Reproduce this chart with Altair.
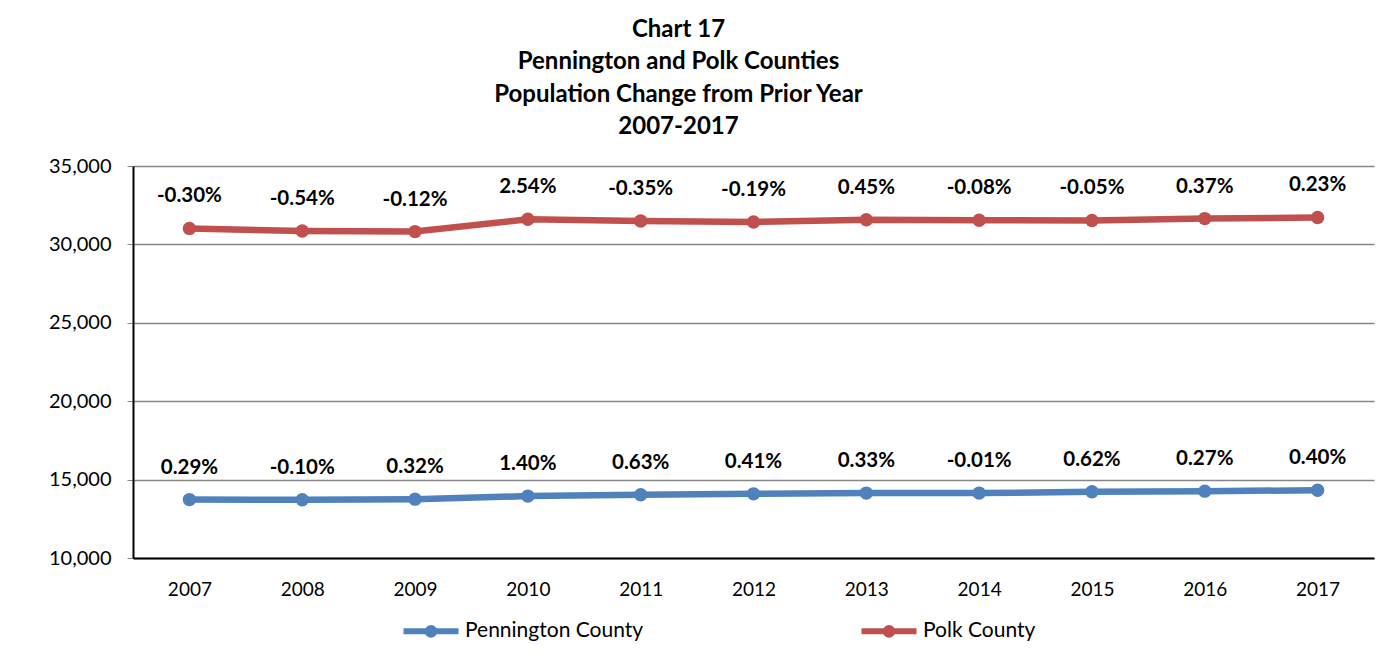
import altair as alt
import pandas as pd

years = [str(y) for y in range(2007, 2018)]
counties = ["Pennington County", "Polk County"]
pennington_pop = [13724, 13710, 13754, 13947, 14035, 14092, 14139, 14138, 14225, 14263, 14320]
polk_pop = [31020, 30853, 30816, 31599, 31488, 31428, 31570, 31545, 31529, 31646, 31719]
pennington_pct = [0.29, -0.10, 0.32, 1.40, 0.63, 0.41, 0.33, -0.01, 0.62, 0.27, 0.40]
polk_pct = [-0.30, -0.54, -0.12, 2.54, -0.35, -0.19, 0.45, -0.08, -0.05, 0.37, 0.23]
colors = ["#4F81BD", "#C0504D"]
y_ticks = [10000, 15000, 20000, 25000, 30000, 35000]

rows = []
for i, yr in enumerate(years):
    rows.append({"year": yr, "county": counties[0], "pop": pennington_pop[i],
                 "label": f"{pennington_pct[i]:.2f}%"})
    rows.append({"year": yr, "county": counties[1], "pop": polk_pop[i],
                 "label": f"{polk_pct[i]:.2f}%"})
df = pd.DataFrame(rows)

FONT = "Lato"

x_enc = alt.X("year:O", title=None, sort=years,
              scale=alt.Scale(type="point", padding=0.5),
              axis=alt.Axis(labelAngle=0, ticks=False, labelPadding=22, domainColor="#000000",
                            domainWidth=2, labelFontSize=19, labelColor="#000000", labelFont=FONT,
                            grid=False))
y_enc = alt.Y("pop:Q", title=None,
              scale=alt.Scale(domain=[10000, 35000], nice=False, zero=False),
              axis=alt.Axis(values=y_ticks, format=",.0f", tickSize=6, labelPadding=16,
                            tickColor="#868686", domainColor="#000000", domainWidth=2,
                            gridColor="#868686", gridWidth=1.3, labelFontSize=20,
                            labelColor="#000000", labelFont=FONT, minExtent=120))
color_enc = alt.Color("county:N", scale=alt.Scale(domain=counties, range=colors), title=None,
                      legend=alt.Legend(orient="none", legendX=285, legendY=452, direction="horizontal",
                                        symbolType="M-2.75,0L2.75,0M-0.33,0A0.33,0.33,0,1,1,0.33,0A0.33,0.33,0,1,1,-0.33,0",
                                        symbolSize=400, symbolStrokeWidth=6, labelOffset=21,
                                        labelFontSize=21, labelFont=FONT, labelColor="#000000",
                                        columnPadding=205, labelLimit=400))

base = alt.Chart(df)
lines = base.mark_line(strokeWidth=6.5).encode(x=x_enc, y=y_enc, color=color_enc)
points = base.mark_point(filled=True, size=180, opacity=1).encode(x=x_enc, y=y_enc, color=color_enc)
labels = base.mark_text(dy=-32, fontWeight="bold", fontSize=20.5, font=FONT, color="#000000").encode(
    x=x_enc, y=y_enc, text="label:N")

chart = alt.layer(lines, points, labels).properties(
    width=1241, height=392,
    padding={"left": 5, "top": 9, "right": 5, "bottom": 5},
    title=alt.TitleParams(
        ["Chart 17", "Pennington and Polk Counties", "Population Change from Prior Year", "2007-2017"],
        font=FONT, fontSize=24, fontWeight="bold", color="#000000", lineHeight=32.5,
        anchor="middle", frame="bounds", offset=17, dx=-15),
).configure_view(stroke=None)

chart.save("out.html", embed_options={"renderer": "svg", "actions": False})
